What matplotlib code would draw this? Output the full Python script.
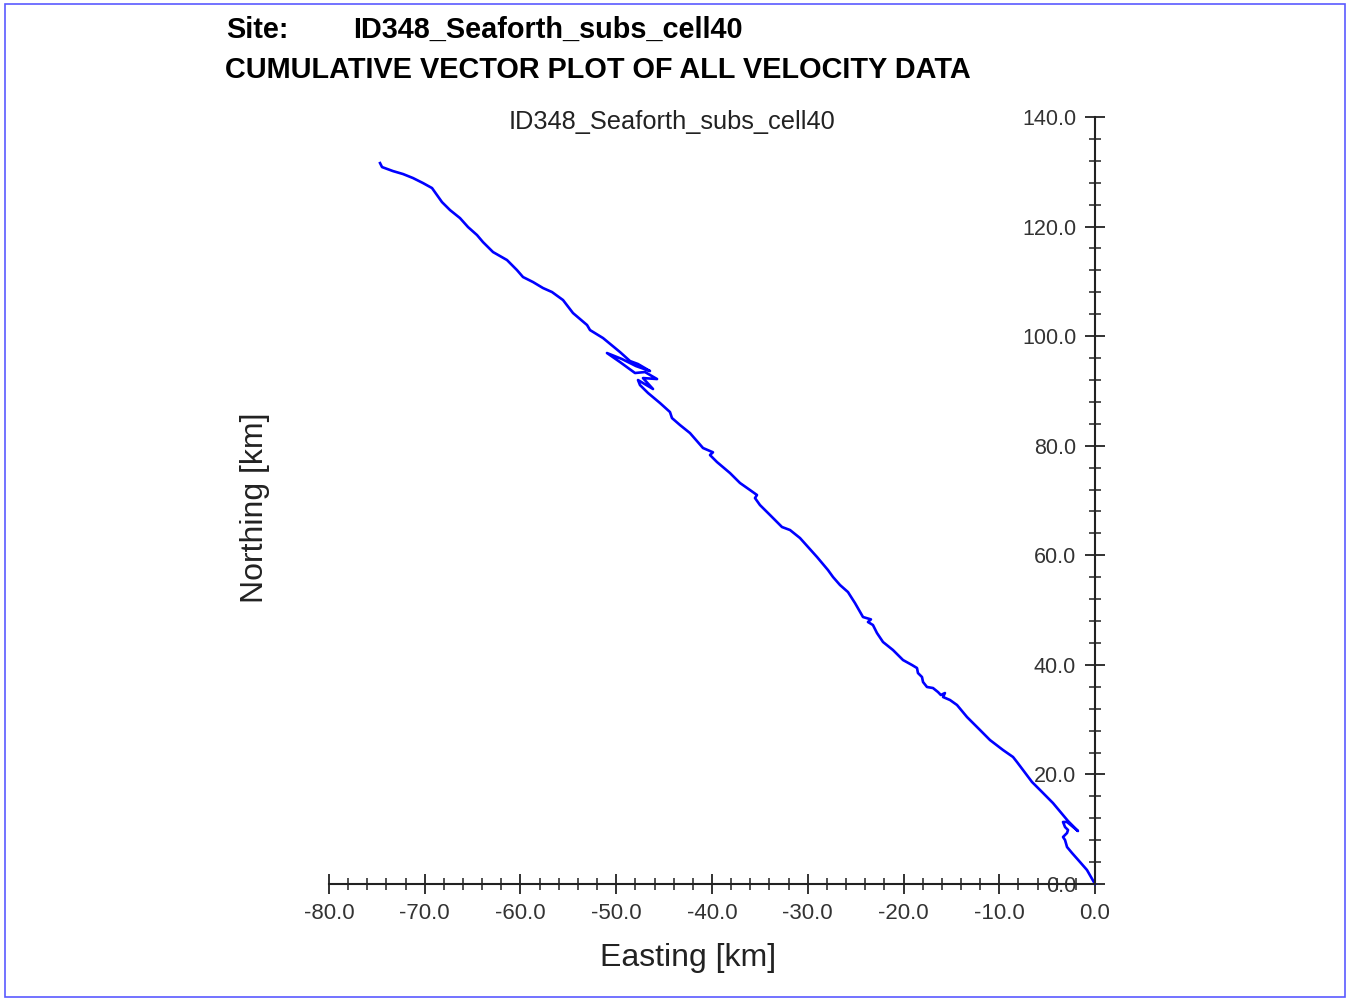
import matplotlib
matplotlib.use("Agg")
import matplotlib.pyplot as plt
from matplotlib.ticker import MultipleLocator, FormatStrFormatter
from matplotlib.patches import Rectangle

plt.rcParams['font.family'] = ['Liberation Sans', 'DejaVu Sans']

# Datos (km acumulados desde el origen)
site = "ID348_Seaforth_subs_cell40"
titulo = "CUMULATIVE VECTOR PLOT OF ALL VELOCITY DATA"
easting_km = [0.0, -0.84, -1.57, -2.40, -2.92, -3.13, -3.34, -2.92, -2.82, -3.13,
              -3.34, -2.92, -1.78, -2.82, -4.39, -5.74, -6.58, -7.52, -8.15, -8.56,
              -9.61, -10.97, -12.01, -13.37, -14.41, -15.14, -15.87, -15.67, -16.10, -16.40,
              -16.92, -17.55, -17.96, -18.07, -18.49, -18.59, -19.11, -20.05, -21.10, -22.14,
              -22.77, -23.19, -23.71, -23.40, -24.23, -25.07, -25.80, -26.63, -27.36, -27.89,
              -29.03, -30.81, -31.85, -32.69, -33.21, -33.94, -34.99, -35.51, -35.30, -36.03,
              -37.08, -38.12, -39.48, -40.21, -39.90, -40.94, -42.30, -43.34, -44.18, -44.39,
              -45.43, -46.68, -47.52, -47.73, -46.16, -47.21, -45.74, -47.00, -48.04, -49.61,
              -50.97, -49.40, -47.94, -46.48, -47.73, -48.56, -49.61, -51.38, -52.74, -53.05,
              -54.52, -55.56, -56.71, -57.65, -58.69, -59.74, -60.37, -61.41, -62.87, -63.92,
              -64.54, -65.48, -66.32, -67.36, -68.20, -68.72, -69.24, -70.18, -71.23, -72.27,
              -73.32, -74.46, -74.67]
northing_km = [0.0, 2.56, 4.02, 5.66, 6.75, 8.03, 8.58, 9.31, 9.86, 10.40,
               11.32, 11.32, 9.67, 11.50, 14.78, 17.16, 18.62, 20.81, 22.27, 23.18,
               24.46, 26.28, 28.11, 30.48, 32.67, 33.58, 34.13, 34.86, 34.50, 35.04,
               35.77, 35.96, 36.87, 37.78, 38.51, 39.42, 39.97, 40.88, 42.71, 44.17,
               45.81, 47.27, 47.82, 48.30, 48.73, 51.29, 53.29, 54.57, 56.03, 57.31,
               59.68, 63.15, 64.61, 65.16, 66.07, 67.35, 69.17, 70.45, 71.00, 71.91,
               73.20, 75.01, 77.02, 78.30, 78.80, 79.58, 82.31, 83.77, 85.05, 86.15,
               87.79, 89.62, 91.07, 91.99, 90.35, 92.35, 92.17, 93.45, 93.27, 95.27,
               96.92, 95.82, 94.54, 93.63, 94.91, 95.45, 97.10, 99.65, 101.11, 102.03,
               104.22, 106.59, 108.05, 108.78, 109.87, 110.79, 112.06, 113.89, 115.35, 117.17,
               118.45, 119.91, 121.55, 123.01, 124.47, 125.75, 127.03, 127.94, 128.86, 129.59,
               130.13, 130.86, 131.59]

fig = plt.figure(figsize=(13.51, 10.01), dpi=100)

# Marco azul alrededor de la figura
fig.patches.append(Rectangle((5 / 1351, 4 / 1001), 1340 / 1351, 993 / 1001,
                             transform=fig.transFigure, fill=False,
                             edgecolor="#5a5aff", lw=1.2))

ax = fig.add_axes([329 / 1351, 1 - 884 / 1001, 766 / 1351, 767 / 1001])
ax.plot(easting_km, northing_km, color="#0000ff", lw=1.9, clip_on=False)

ax.set_xlim(-80, 0)
ax.set_ylim(0, 140)

# Ejes cruzando en el origen (eje Y a la derecha, en x=0)
ax.spines['left'].set_position(('data', 0))
ax.spines['top'].set_visible(False)
ax.spines['right'].set_visible(False)
for s in ('left', 'bottom'):
    ax.spines[s].set_linewidth(1.5)
    ax.spines[s].set_color("#222222")

ax.xaxis.set_major_locator(MultipleLocator(10))
ax.xaxis.set_minor_locator(MultipleLocator(2))
ax.yaxis.set_major_locator(MultipleLocator(20))
ax.yaxis.set_minor_locator(MultipleLocator(4))
ax.xaxis.set_major_formatter(FormatStrFormatter('%.1f'))
ax.yaxis.set_major_formatter(FormatStrFormatter('%.1f'))

ax.tick_params(which='major', direction='inout', length=15, width=1.3,
               color="#222222", labelcolor="#333333", pad=6)
ax.tick_params(axis='x', which='major', labelsize=16)
ax.tick_params(axis='y', which='major', labelsize=15.5)
ax.tick_params(which='minor', direction='inout', length=9, width=1.1, color="#222222")

# Textos
fig.text(226 / 1351, 1 - 38 / 1001, "Site:", fontsize=20.8, fontweight='bold', va='baseline')
fig.text(353 / 1351, 1 - 38 / 1001, site, fontsize=20.8, fontweight='bold', va='baseline')
fig.text(225 / 1351, 1 - 78 / 1001, titulo, fontsize=20.8, fontweight='bold', va='baseline')
fig.text(672 / 1351, 1 - 122 / 1001, site, fontsize=18.3, ha='center', va='center', color="#222222")
fig.text(688 / 1351, 1 - 958 / 1001, "Easting [km]", fontsize=23, ha='center', va='center', color="#222222")
fig.text(255 / 1351, 1 - 508 / 1001, "Northing [km]", fontsize=23, ha='center', va='center',
         rotation=90, color="#222222")

plt.savefig("out.png", dpi=100)
